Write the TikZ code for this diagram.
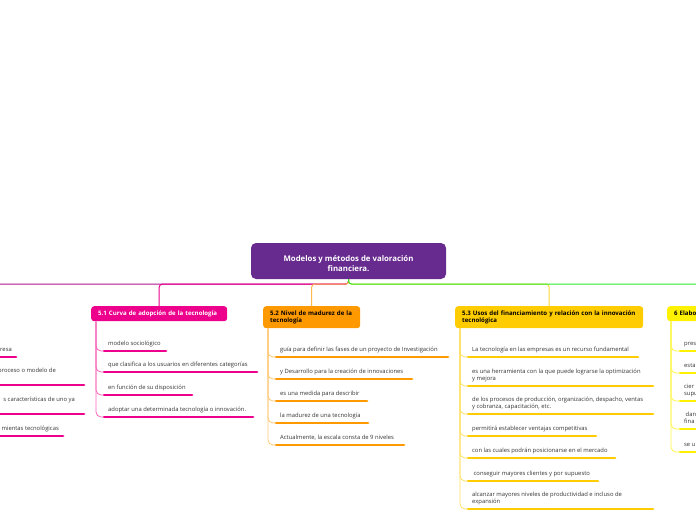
\documentclass[tikz,border=0pt]{standalone}
\usepackage{fontspec}
\setmainfont{Open Sans}
\usepackage{xcolor}

\definecolor{rootpurple}{RGB}{103,42,142}
\definecolor{mmpink}{RGB}{236,0,140}
\definecolor{mmorange}{RGB}{255,153,0}
\definecolor{mmgold}{RGB}{255,204,0}
\definecolor{mmyellow}{RGB}{255,242,0}
\definecolor{mmgreen}{RGB}{40,235,40}
\definecolor{leafgray}{RGB}{51,51,51}

\newcommand{\leaffont}{\fontsize{5.85}{6.9}\selectfont}
\newcommand{\branchfont}{\fontsize{6.1}{6.9}\selectfont\bfseries}
\newcommand{\rootfont}{\fontsize{7.8}{10}\selectfont\bfseries}
\newcommand{\leafstrut}{\rule[-1.7pt]{0pt}{1pt}}

\tikzset{
  root/.style={fill=rootpurple, text=white, rounded corners=5pt, minimum width=195pt,
    minimum height=36pt, align=center, font=\rootfont, inner sep=0pt},
  branch/.style={fill=#1, rounded corners=3pt, anchor=north west, inner xsep=7pt,
    inner ysep=3pt, align=left, font=\branchfont, minimum height=15pt},
  leaf/.style 2 args={anchor=south west, inner xsep=4pt, inner ysep=3.8pt,
    align=left, font=\leaffont, text=leafgray, execute at end node=\leafstrut,
    append after command={(\tikzlastnode.south west) edge[draw=#1, line width=2.8pt, line cap=round] ([xshift=#2]\tikzlastnode.south west)}},
  leftleaf/.style 2 args={anchor=south east, inner xsep=4pt, inner ysep=3.8pt,
    align=right, font=\leaffont, text=leafgray, execute at end node=\leafstrut,
    append after command={([xshift=-#2]\tikzlastnode.south east) edge[draw=#1, line width=2.8pt, line cap=round] (\tikzlastnode.south east)}},
  stem/.style={draw=#1, line width=1pt, rounded corners=3pt},
  twig/.style={draw=#1, line width=0.8pt, rounded corners=5pt},
}

\begin{document}
\begin{tikzpicture}[x=1pt, y=-1pt]
\useasboundingbox (0,0) rectangle (696,520);
\clip (0,0) rectangle (696,520);

\node[root] (root) at (348.5,261) {\rule{0pt}{11pt}Modelos y métodos de valoración\\financiera.};

\node[branch=mmpink, text=white, text width=122pt] (b51) at (91,306) {5.1 Curva de adopción de la tecnología};
\node[branch=mmorange, text=black, text width=83pt, minimum height=22pt] (b52) at (263,306) {5.2 Nivel de madurez de la\\tecnología};
\node[branch=mmgold, text=black, text width=174pt, minimum height=22pt] (b53) at (455,306) {5.3 Usos del financiamiento y relación con la innovación\\tecnológica};
\node[branch=mmyellow, text=black, text width=80pt] (b6) at (667,306) {6 Elabo}; % cut by the edge

\coordinate (offL) at (-5,284);
\coordinate (offR) at (705,284);

% root to branches
\draw[stem=mmpink!55!rootpurple] (root.south) |- (offL);
\draw[stem=mmpink] (root.south) -- ++(0,5) -| (b51.north);
\draw[stem=mmorange!70!white] (root.south) -- ++(0,5) -| (b52.north);
\draw[stem=mmgold!80!white] (root.south) -- ++(0,5) -| (b53.north);
\draw[stem=mmgreen] (root.south) |- (offR);

% left branch, cut by the edge
\node[leftleaf={mmpink}{80pt}] (lL1) at (16,357) {resa};
\node[leftleaf={mmpink}{120pt}] (lL2) at (84,385) {proceso o modelo de\rule{24pt}{0pt}\\~};
\node[leftleaf={mmpink}{120pt}] (lL3) at (84,414) {s características de uno ya\rule{5pt}{0pt}\\~};
\node[leftleaf={mmpink}{100pt}] (lL4) at (63,436) {mientas tecnológicas};

% 5.1
\node[leaf={mmpink}{62pt}] (l51a) at (104,351) {modelo sociológico};
\node[leaf={mmpink}{153pt}] (l51b) at (104,372) {que clasifica a los usuarios en diferentes categorías};
\node[leaf={mmpink}{88pt}] (l51c) at (104,395) {en función de su disposición};
\node[leaf={mmpink}{149pt}] (l51d) at (104,417) {adoptar una determinada tecnología o innovación.};
\coordinate (t51) at ([xshift=5pt]b51.south west);
\draw[twig=mmpink!60] (t51) |- (l51a.south west);
\draw[twig=mmpink!60] (t51) |- (l51b.south west);
\draw[twig=mmpink!60] (t51) |- (l51c.south west);
\draw[twig=mmpink!60] (t51) |- (l51d.south west);

% 5.2
\node[leaf={mmorange}{172pt}] (l52a) at (276,357) {guía para definir las fases de un proyecto de Investigación};
\node[leaf={mmorange}{136pt}] (l52b) at (276,379) {y Desarrollo para la creación de innovaciones};
\node[leaf={mmorange}{91pt}] (l52c) at (276,401) {es una medida para describir};
\node[leaf={mmorange}{92pt}] (l52d) at (276,423) {la madurez de una tecnología};
\node[leaf={mmorange}{128pt}] (l52e) at (276,445) {Actualmente, la escala consta de 9 niveles};
\coordinate (t52) at ([xshift=5pt]b52.south west);
\draw[twig=mmorange!55] (t52) |- (l52a.south west);
\draw[twig=mmorange!55] (t52) |- (l52b.south west);
\draw[twig=mmorange!55] (t52) |- (l52c.south west);
\draw[twig=mmorange!55] (t52) |- (l52d.south west);
\draw[twig=mmorange!55] (t52) |- (l52e.south west);

% 5.3
\node[leaf={mmgold}{170pt}] (l53a) at (468,357) {La tecnología en las empresas es un recurso fundamental};
\node[leaf={mmgold}{185pt}] (l53b) at (468,386) {es una herramienta con la que puede lograrse la optimización\\y mejora};
\node[leaf={mmgold}{185pt}] (l53c) at (468,414) {de los procesos de producción, organización, despacho, ventas\\y cobranza, capacitación, etc.};
\node[leaf={mmgold}{128pt}] (l53d) at (468,436) {permitirá establecer ventajas competitivas};
\node[leaf={mmgold}{147pt}] (l53e) at (468,458) {con las cuales podrán posicionarse en el mercado};
\node[leaf={mmgold}{130pt}] (l53f) at (468,481) {\hspace*{1.5pt}conseguir mayores clientes y por supuesto};
\node[leaf={mmgold}{185pt}] (l53g) at (468,509) {alcanzar mayores niveles de productividad e incluso de\\expansión};
\coordinate (t53) at ([xshift=5pt]b53.south west);
\draw[twig=mmgold!60] (t53) |- (l53a.south west);
\draw[twig=mmgold!60] (t53) |- (l53b.south west);
\draw[twig=mmgold!60] (t53) |- (l53c.south west);
\draw[twig=mmgold!60] (t53) |- (l53d.south west);
\draw[twig=mmgold!60] (t53) |- (l53e.south west);
\draw[twig=mmgold!60] (t53) |- (l53f.south west);
\draw[twig=mmgold!60] (t53) |- (l53g.south west);

% 6, cut by the edge
\node[leaf={mmyellow}{60pt}] (l6a) at (680,351) {pres};
\node[leaf={mmyellow}{60pt}] (l6b) at (680,373) {esta};
\node[leaf={mmyellow}{60pt}] (l6c) at (680,401) {cier\\supu};
\node[leaf={mmyellow}{60pt}] (l6d) at (680,429) {\hspace*{1.5pt}dan\\fina};
\node[leaf={mmyellow}{60pt}] (l6e) at (680,452) {se u};
\coordinate (t6) at ([xshift=4pt]b6.south west);
\draw[twig=mmyellow!70] (t6) |- (l6a.south west);
\draw[twig=mmyellow!70] (t6) |- (l6b.south west);
\draw[twig=mmyellow!70] (t6) |- (l6c.south west);
\draw[twig=mmyellow!70] (t6) |- (l6d.south west);
\draw[twig=mmyellow!70] (t6) |- (l6e.south west);
\end{tikzpicture}
\end{document}
